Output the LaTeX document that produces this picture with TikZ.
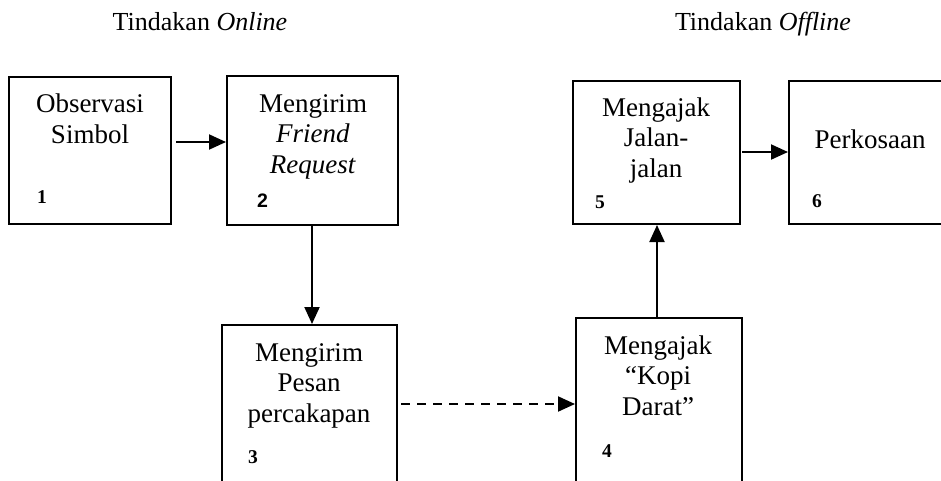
\documentclass[tikz,border=0pt]{standalone}
\usepackage{fontspec}
\setmainfont{Liberation Serif}
\newfontfamily\numsans{Liberation Sans}
\usetikzlibrary{arrows.meta}
\begin{document}
\begin{tikzpicture}[x=1pt,y=-1pt,
  box/.style={draw,line width=2pt,inner sep=0pt},
  boxtext/.style={font=\fontsize{27}{30.5}\selectfont,align=center,anchor=base,inner sep=0pt},
  heading/.style={font=\fontsize{26}{30}\selectfont,anchor=base,inner sep=0pt},
  stepno/.style={font=\fontsize{19.5}{19.5}\selectfont\bfseries,anchor=base west,inner sep=0pt},
  arr/.style={line width=2pt,-{Triangle[length=17pt,width=15pt]}},
  dasharr/.style={arr,dash pattern=on 9pt off 7pt}
]
\clip (0,0) rectangle (941,480);

% headings
\node[heading] (h1) at (200,30) {Tindakan \textit{Online}};
\node[heading] (h2) at (763,30) {Tindakan \textit{Offline}};

% step boxes
\node[box,minimum width=162pt,minimum height=147pt] (b1) at (90,150.5) {};
\node[box,minimum width=171pt,minimum height=149pt] (b2) at (312.5,150.5) {};
\node[box,minimum width=175pt,minimum height=195pt] (b3) at (309.5,422.5) {};
\node[box,minimum width=166pt,minimum height=202pt] (b4) at (659,419) {};
\node[box,minimum width=167pt,minimum height=143pt] (b5) at (656.5,152.5) {};
\node[box,minimum width=171pt,minimum height=143pt] (b6) at (874.5,152.5) {};

% box texts (anchored at the baseline of the last line)
\node[boxtext] (t1) at (90,143) {Observasi\\Simbol};
\node[boxtext] (t2) at (313,173) {Mengirim\\\textit{Friend}\\\textit{Request}};
\node[boxtext] (t3) at (309,422) {Mengirim\\Pesan\\percakapan};
\node[boxtext] (t4) at (658,415) {Mengajak\\``Kopi\\Darat''};
\node[boxtext] (t5) at (656,177) {Mengajak\\Jalan-\\jalan};
\node[boxtext] (t6) at (870,148) {Perkosaan};

% step numbers
\node[stepno] (n1) at (37,203) {1};
\node[stepno] (n2) at (257,207) {\numsans 2};
\node[stepno] (n3) at (248,463) {3};
\node[stepno] (n4) at (602,457) {4};
\node[stepno] (n5) at (595,208) {5};
\node[stepno] (n6) at (812,207) {6};

% connectors
\draw[arr,shorten <=4pt] ([yshift=8.5pt]b1.east) -- ([yshift=8.5pt]b1.east -| b2.west);
\draw[arr] ([xshift=-0.5pt]b2.south) -- ([xshift=-0.5pt]b2.south |- b3.north);
\draw[dasharr,shorten <=3pt] ([yshift=18.5pt]b3.east) -- ([yshift=18.5pt]b3.east -| b4.west);
\draw[arr] ([xshift=-2pt]b4.north) -- ([xshift=-2pt]b4.north |- b5.south);
\draw[arr,shorten <=1pt] ([yshift=0.5pt]b5.east) -- ([yshift=0.5pt]b5.east -| b6.west);
\end{tikzpicture}
\end{document}
